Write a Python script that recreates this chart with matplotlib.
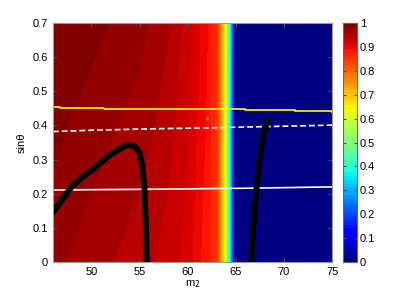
import numpy as np
import matplotlib
matplotlib.use('Agg')
import matplotlib.pyplot as plt

plt.rcParams['font.family'] = ['Liberation Sans', 'DejaVu Sans']

# background field: profile along m2 read at the bottom and top rows
prof_m2 = [46, 50, 55, 58, 60, 62, 63.0, 63.4, 63.9, 64.4, 64.7, 64.95, 75]
prof_bot = [0.975, 0.96, 0.945, 0.93, 0.915, 0.88, 0.85, 0.76, 0.62, 0.38, 0.15, 0.0, 0.0]
prof_top = [1.0, 0.99, 0.975, 0.955, 0.93, 0.895, 0.86, 0.78, 0.64, 0.40, 0.16, 0.0, 0.0]

# black curves
c1_m2 = [46.0, 47.0, 48.0, 49.0, 50.0, 51.0, 52.0, 53.0, 53.8, 54.5, 55.0, 55.3, 55.5, 55.6, 55.7, 55.75]
c1_s = [0.145, 0.185, 0.222, 0.248, 0.268, 0.292, 0.315, 0.333, 0.343, 0.338, 0.318, 0.28, 0.22, 0.15, 0.07, 0.0]
c2_m2 = [66.6, 66.8, 67.1, 67.45, 67.9, 68.3]
c2_s = [0.0, 0.1, 0.2, 0.3, 0.38, 0.413]

# yellow stepped line
yel_m2 = [46, 46.7, 51.3, 60.9, 65.9, 71.1, 75]
yel_s = [0.455, 0.452, 0.448, 0.447, 0.445, 0.442, 0.438]

# white dashed and solid lines
wd_m2 = [46, 50, 56, 62, 67, 72, 75]
wd_s = [0.382, 0.386, 0.39, 0.393, 0.396, 0.399, 0.401]
ws_m2 = [46, 56, 66, 75]
ws_s = [0.211, 0.213, 0.216, 0.22]

dot = (62.0, 0.422)

m2 = np.linspace(46, 75, 600)
s = np.linspace(0, 0.7, 300)
bot = np.interp(m2, prof_m2, prof_bot)
top = np.interp(m2, prof_m2, prof_top)
frac = (s / 0.7)[:, None]
Z = bot[None, :] * (1 - frac) + top[None, :] * frac

fig = plt.figure(figsize=(4.07, 2.96), dpi=100)
ax = fig.add_axes([0.130, 0.115, 0.686, 0.807])
cax = fig.add_axes([0.843, 0.115, 0.034, 0.807])

cmap = plt.get_cmap('jet', 64)
im = ax.pcolormesh(m2, s, Z, cmap=cmap, vmin=0, vmax=1, shading='auto')

ax.plot(ws_m2, ws_s, color='white', lw=1.2)
ax.plot(wd_m2, wd_s, color='white', lw=1.2, ls=(0, (3.5, 1.8)))
ax.step(yel_m2, yel_s, where='post', color='yellow', lw=1.2)
ax.plot(c1_m2, c1_s, color='black', lw=4.3, solid_capstyle='round')
ax.plot(c2_m2, c2_s, color='black', lw=4.3, solid_capstyle='round')
ax.plot(*dot, marker='s', ms=2, color='#ffc000', mec='none')

ax.set_xlim(46, 75)
ax.set_ylim(0, 0.7)
ax.set_xticks([50, 55, 60, 65, 70, 75])
ax.set_yticks(np.arange(0, 0.71, 0.1))
ax.set_yticklabels(['0', '0.1', '0.2', '0.3', '0.4', '0.5', '0.6', '0.7'])
ax.tick_params(direction='in', length=3, labelsize=8, top=True, right=True, color='0.3')
for sp in ax.spines.values():
    sp.set_color('0.6')
    sp.set_linewidth(0.8)
ax.set_xlabel('m$_2$', fontsize=8, labelpad=1)
ax.set_ylabel('sin\u03b8', fontsize=8, labelpad=4)

cb = fig.colorbar(im, cax=cax)
cb.set_ticks(np.arange(0, 1.01, 0.1))
cb.set_ticklabels(['0', '0.1', '0.2', '0.3', '0.4', '0.5', '0.6', '0.7', '0.8', '0.9', '1'])
cax.tick_params(direction='in', length=2, labelsize=8, left=True, right=True, color='0.3', pad=2)
cb.outline.set_edgecolor('0.4')
cb.outline.set_linewidth(0.8)

fig.savefig('out.png', dpi=100)
